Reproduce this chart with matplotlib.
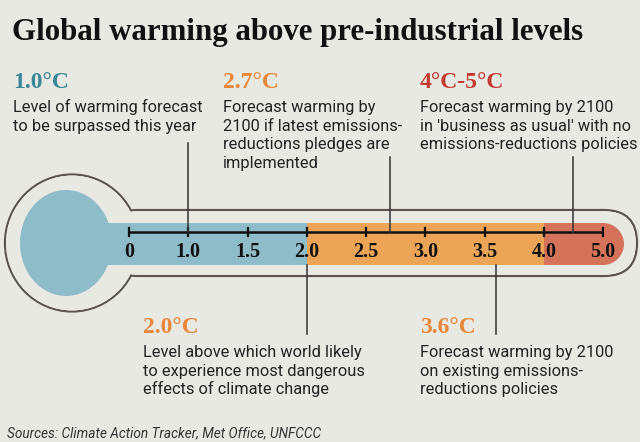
import numpy as np
import matplotlib
matplotlib.use('Agg')
import matplotlib.pyplot as plt
from matplotlib.patches import Circle, Ellipse, Rectangle, FancyBboxPatch

# scale of the thermometer (ticks are evenly spaced, 4.0 -> 5.0 is one step)
scale_values = [0, 1.0, 1.5, 2.0, 2.5, 3.0, 3.5, 4.0, 5.0]
scale_labels = ['0', '1.0', '1.5', '2.0', '2.5', '3.0', '3.5', '4.0', '5.0']

# coloured bands in the tube
band_starts = [None, 2.0, 4.0]
band_ends = [2.0, 4.0, None]
band_colors = ['#8fbcc9', '#eca556', '#d4735a']

# callouts
callout_values = [1.0, 2.7, 4.5, 2.0, 3.6]
callout_titles = ['1.0°C', '2.7°C', '4°C-5°C', '2.0°C', '3.6°C']
callout_colors = ['#3a8797', '#e8863a', '#c23a30', '#e8863a', '#e8863a']
callout_sides = ['top', 'top', 'top', 'bottom', 'bottom']
callout_texts = [
    ['Level of warming forecast', 'to be surpassed this year'],
    ['Forecast warming by', '2100 if latest emissions-', 'reductions pledges are', 'implemented'],
    ['Forecast warming by 2100', "in 'business as usual' with no", 'emissions-reductions policies'],
    ['Level above which world likely', 'to experience most dangerous', 'effects of climate change'],
    ['Forecast warming by 2100', 'on existing emissions-', 'reductions policies'],
]

title = 'Global warming above pre-industrial levels'
source = 'Sources: Climate Action Tracker, Met Office, UNFCCC'

bg = '#e9e9e4'
outline = '#5a5451'
ink = '#222222'
serif = ['Liberation Serif', 'DejaVu Serif']
sans = ['Roboto', 'DejaVu Sans']

fig = plt.figure(figsize=(6.4, 4.42), dpi=100, facecolor=bg)
ax = fig.add_axes([0, 0, 1, 1])
ax.set_xlim(0, 640)
ax.set_ylim(442, 0)
ax.axis('off')
ax.set_facecolor(bg)

# pixel layout of the scale
tick_x = 129 + 59.25 * np.arange(len(scale_values))
def to_x(v):
    return np.interp(v, scale_values, tick_x)

axis_y = 232
band_top, band_bot = 223, 265
cy = 243

# outline of the thermometer: bulb + tube, then cover the inner edges
ax.add_patch(Ellipse((72, cy), 134, 137, facecolor=bg, edgecolor=outline, lw=1.6))
ax.add_patch(FancyBboxPatch((105, 210), 637 - 105, 66, boxstyle='round,pad=0,rounding_size=33',
                            facecolor=bg, edgecolor=outline, lw=1.6))
ax.add_patch(Ellipse((72, cy), 132, 135, facecolor=bg, edgecolor='none'))
ax.add_patch(FancyBboxPatch((106, 211.2), 635.8 - 106, 63.6, boxstyle='round,pad=0,rounding_size=31.8',
                            facecolor=bg, edgecolor='none'))

# bulb and coloured bands
ax.add_patch(Ellipse((66, cy), 92, 106, facecolor=band_colors[0], edgecolor='none'))
cap_r = (band_bot - band_top) / 2
end_x = to_x(5.0)
for s, e, c in zip(band_starts, band_ends, band_colors):
    x0 = 100 if s is None else to_x(s)
    x1 = end_x if e is None else to_x(e)
    ax.add_patch(Rectangle((x0, band_top), x1 - x0, band_bot - band_top, facecolor=c, edgecolor='none'))
    if e is None:
        ax.add_patch(Circle((end_x, (band_top + band_bot) / 2), cap_r, facecolor=c, edgecolor='none'))

# scale line, ticks and labels
ax.plot([to_x(0), to_x(5.0)], [axis_y, axis_y], color='#111111', lw=1.8, solid_capstyle='butt')
for v, lab in zip(scale_values, scale_labels):
    x = to_x(v)
    ax.plot([x, x], [axis_y - 3.6, axis_y + 3.6], color='#111111', lw=1.6)
    ax.text(x, 252, lab, ha='center', va='center', fontsize=14.5, fontweight='bold',
            family=serif, color='#111111')

# callouts
top_x = {1.0: 13, 2.7: 223, 4.5: 420}
bot_x = {2.0: 143, 3.6: 420}
for v, t, c, side, lines in zip(callout_values, callout_titles, callout_colors, callout_sides, callout_texts):
    lx = to_x(v)
    if side == 'top':
        tx, ty = top_x[v], 88
        ax.plot([lx, lx], [143 if v == 1.0 else 157, axis_y], color='#333333', lw=1.1)
    else:
        tx, ty = bot_x[v], 333
        ax.plot([lx, lx], [band_bot, 334], color='#333333', lw=1.1)
    ax.text(tx, ty, t, ha='left', va='baseline', fontsize=17, fontweight='bold',
            family=serif, color=c)
    for i, line in enumerate(lines):
        ax.text(tx, ty + 24 + 18.7 * i, line, ha='left', va='baseline', fontsize=11.75,
                family=sans, color=ink)

# title and source
ax.text(12, 40, title, ha='left', va='baseline', fontsize=22.2, fontweight='bold',
        family=serif, color='#111111')
ax.text(7, 437, source, ha='left', va='baseline', fontsize=9.8, style='italic',
        family=sans, color='#333333')

fig.savefig('out.png', dpi=100, facecolor=bg)
